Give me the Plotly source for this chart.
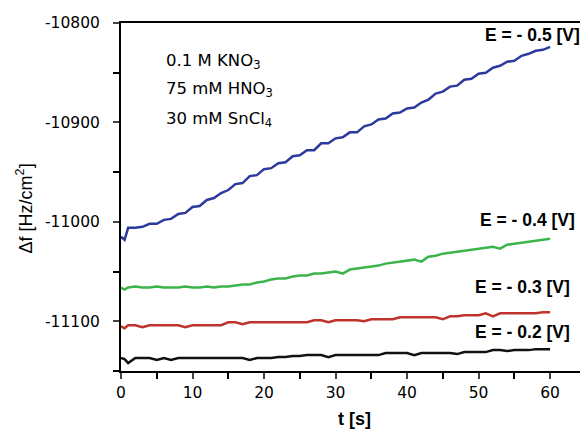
import plotly.graph_objects as go

t = [0, 0.5] + list(range(1, 61))

blue_e05 = [-11015, -11018, -11006, -11006, -11005, -11002, -11002, -10998, -10997, -10992,
            -10991, -10985, -10984, -10978, -10976, -10971, -10968, -10962, -10961, -10954,
            -10953, -10947, -10946, -10941, -10940, -10934, -10933, -10928, -10928, -10921,
            -10921, -10916, -10915, -10910, -10910, -10904, -10902, -10897, -10896, -10891,
            -10890, -10886, -10885, -10880, -10877, -10871, -10869, -10864, -10863, -10857,
            -10856, -10851, -10850, -10845, -10843, -10839, -10838, -10833, -10831, -10828,
            -10827, -10824]

green_e04 = [-11066, -11068, -11066, -11065, -11066, -11066, -11065, -11066, -11066, -11066,
             -11065, -11066, -11066, -11065, -11066, -11065, -11065, -11064, -11063, -11063,
             -11061, -11060, -11058, -11057, -11057, -11055, -11054, -11054, -11052, -11052,
             -11051, -11050, -11052, -11048, -11047, -11046, -11045, -11044, -11042, -11041,
             -11040, -11039, -11038, -11040, -11035, -11034, -11032, -11031, -11030, -11029,
             -11028, -11027, -11026, -11025, -11027, -11023, -11022, -11021, -11020, -11019,
             -11018, -11017]

red_e03 = [-11105, -11107, -11104, -11104, -11106, -11104, -11104, -11104, -11104, -11104,
           -11106, -11104, -11104, -11104, -11104, -11104, -11101, -11101, -11103, -11101,
           -11101, -11101, -11101, -11101, -11101, -11101, -11101, -11101, -11099, -11099,
           -11101, -11099, -11099, -11099, -11099, -11100, -11098, -11098, -11098, -11098,
           -11096, -11096, -11096, -11096, -11096, -11096, -11098, -11095, -11095, -11094,
           -11094, -11094, -11092, -11095, -11092, -11092, -11092, -11092, -11092, -11092,
           -11091, -11091]

black_e02 = [-11137, -11138, -11142, -11137, -11137, -11137, -11139, -11137, -11139, -11137,
             -11137, -11137, -11137, -11137, -11137, -11137, -11137, -11137, -11137, -11139,
             -11137, -11137, -11137, -11136, -11136, -11135, -11135, -11134, -11134, -11134,
             -11136, -11134, -11134, -11134, -11134, -11134, -11134, -11134, -11132, -11132,
             -11132, -11132, -11134, -11132, -11132, -11132, -11132, -11132, -11133, -11131,
             -11131, -11131, -11131, -11129, -11129, -11130, -11129, -11129, -11129, -11128,
             -11128, -11128]

series_names = ["E = - 0.5 [V]", "E = - 0.4 [V]", "E = - 0.3 [V]", "E = - 0.2 [V]"]
series_colors = ["#2b3a9c", "#3bb44a", "#c0322c", "#111111"]
series_values = [blue_e05, green_e04, red_e03, black_e02]
label_pos = [(64.4, -10812), (63.7, -10998), (63.1, -11065.5), (63.1, -11111)]

x_ticks = [0, 10, 20, 30, 40, 50, 60]
y_ticks = [-11100, -11000, -10900, -10800]
y_ticktext = ["-11100", "-11000", "-10900", "-10800"]

solution_lines = ["0.1 M KNO<sub>3</sub>", "75 mM HNO<sub>3</sub>", "30 mM SnCl<sub>4</sub>"]

SANS = "Liberation Sans, Arial, sans-serif"
TICKF = "DejaVu Sans, sans-serif"

# page body has an 8px margin; figure is sized to fit the 588x434 window
OFF = 8
W, H = 588 - OFF, 434 - OFF
ML, MR, MT, MB = 121 - OFF, 3, 23 - OFF, 63
PW = W - ML - MR
PH = H - MT - MB


def px(xr):
    return (xr - OFF - ML) / PW


def py(yr):
    return (H - MB - (yr - OFF)) / PH


fig = go.Figure()
for name, col, vals in zip(series_names, series_colors, series_values):
    fig.add_trace(go.Scatter(x=t, y=vals, mode="lines", name=name,
                             line=dict(color=col, width=2.5), showlegend=False))

annotations = []
for name, (lx, ly) in zip(series_names, label_pos):
    annotations.append(dict(x=lx, y=ly, xref="x", yref="y", text="<b>" + name + "</b>",
                            showarrow=False, xanchor="right", yanchor="middle",
                            font=dict(family=SANS, size=17.5, color="black")))

for i, line in enumerate(solution_lines):
    annotations.append(dict(x=px(164), y=py(61 + 29 * i), xref="paper", yref="paper",
                            text=line, showarrow=False, xanchor="left", yanchor="middle",
                            font=dict(family=TICKF, size=16.5, color="black")))

annotations.append(dict(x=px(356), y=py(419), xref="paper", yref="paper",
                        text="<b>t [s]</b>", showarrow=False, xanchor="center", yanchor="middle",
                        font=dict(family=SANS, size=18, color="black")))
annotations.append(dict(x=px(25), y=py(208), xref="paper", yref="paper",
                        text="Δf [Hz/cm<sup>2</sup>]", showarrow=False, textangle=-90,
                        xanchor="center", yanchor="middle",
                        font=dict(family=SANS, size=18, color="black")))

fig.update_layout(
    width=W, height=H,
    margin=dict(l=ML, r=MR, t=MT, b=MB),
    paper_bgcolor="white", plot_bgcolor="white",
    font=dict(family=TICKF, size=15, color="black"),
    annotations=annotations,
)

fig.update_xaxes(range=[0, 64.6], tickvals=x_ticks, ticks="outside", ticklen=6, tickwidth=2,
                 showline=True, linewidth=2, linecolor="black", mirror=True,
                 showgrid=False, zeroline=False, ticklabelstandoff=0,
                 minor=dict(dtick=5, tick0=0, ticks="outside", ticklen=6, tickwidth=2, tickcolor="black"),
                 tickfont=dict(family=TICKF, size=15.5, color="black"))
fig.update_yaxes(range=[-11150, -10800], tickvals=y_ticks, ticktext=y_ticktext,
                 ticks="outside", ticklen=6, tickwidth=2,
                 showline=True, linewidth=2, linecolor="black", mirror=True,
                 showgrid=False, zeroline=False, ticklabelstandoff=10,
                 minor=dict(dtick=50, tick0=-11150, ticks="outside", ticklen=6, tickwidth=2, tickcolor="black"),
                 tickfont=dict(family=TICKF, size=15.5, color="black"))

fig.write_html("out.html")
